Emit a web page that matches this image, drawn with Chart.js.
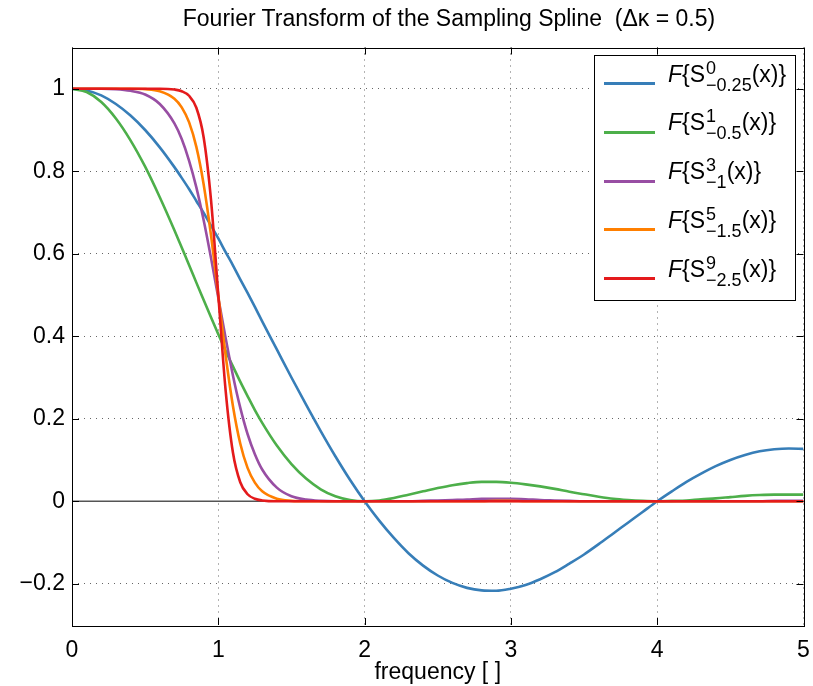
<!DOCTYPE html>
<html>
<head>
<meta charset="utf-8">
<script src="https://cdn.jsdelivr.net/npm/chart.js@4.4.1/dist/chart.umd.min.js"></script>
<style>
  body { margin: 0; background: #fff; }
  #wrap { position: relative; width: 813px; height: 686px; }
  #title {
    position: absolute; left: 0; width: 898px; top: 7px; text-align: center;
    font-family: "Liberation Sans", Arial, sans-serif; font-size: 23px; line-height: 23px;
    color: #000; white-space: pre;
  }
  #legend {
    position: absolute; left: 594px; top: 55px; width: 202px; height: 246px;
    border: 1px solid #000; background: #fff; box-sizing: border-box;
    font-family: "Liberation Sans", Arial, sans-serif; color: #000;
  }
  .swatch { position: absolute; left: 9px; width: 51px; height: 3px; }
  .lbl { position: absolute; left: 73px; font-size: 23px; line-height: 60px; white-space: nowrap; }
  .ss { display: inline-flex; flex-direction: column; vertical-align: 8px; font-size: 18px; line-height: 17px; margin-left: 1px; }
</style>
</head>
<body>
<div id="wrap">
  <canvas id="fourierChart"></canvas>
  <div id="title">Fourier Transform of the Sampling Spline  (&Delta;&kappa; = 0.5)</div>
  <div id="legend"></div>
</div>
<script>
// frequency samples (denser around the cut-off at 1)
const freq = [0, 0.1, 0.2, 0.3, 0.4, 0.5, 0.6, 0.7,
  0.75, 0.8, 0.85, 0.9, 0.95, 1, 1.05, 1.1, 1.15, 1.2, 1.25, 1.3,
  1.4, 1.5, 1.6, 1.7, 1.8, 1.9, 2,
  2.1, 2.2, 2.3, 2.4, 2.5, 2.6, 2.7, 2.8, 2.9, 3,
  3.1, 3.2, 3.3, 3.4, 3.5, 3.6, 3.7, 3.8, 3.9, 4,
  4.1, 4.2, 4.3, 4.4, 4.5, 4.6, 4.7, 4.8, 4.9, 5];

const spline0 = [1, 0.996, 0.984, 0.963, 0.935, 0.900, 0.858, 0.810,
  0.784, 0.757, 0.728, 0.699, 0.668, 0.637, 0.604, 0.572, 0.538, 0.505, 0.471, 0.436,
  0.368, 0.300, 0.234, 0.170, 0.109, 0.052, 0,
  -0.047, -0.089, -0.126, -0.156, -0.180, -0.198, -0.210, -0.216, -0.217, -0.212,
  -0.203, -0.189, -0.172, -0.151, -0.129, -0.104, -0.078, -0.052, -0.026, 0,
  0.024, 0.047, 0.067, 0.085, 0.100, 0.112, 0.121, 0.126, 0.128, 0.127];

const spline1 = [1, 0.992, 0.968, 0.928, 0.875, 0.811, 0.737, 0.657,
  0.615, 0.573, 0.530, 0.488, 0.446, 0.405, 0.365, 0.327, 0.290, 0.255, 0.221, 0.190,
  0.135, 0.090, 0.055, 0.029, 0.012, 0.003, 0,
  0.002, 0.008, 0.016, 0.024, 0.032, 0.039, 0.044, 0.047, 0.047, 0.045,
  0.041, 0.036, 0.030, 0.023, 0.017, 0.011, 0.006, 0.003, 0.001, 0,
  0.001, 0.002, 0.005, 0.007, 0.010, 0.013, 0.015, 0.016, 0.016, 0.016];

const spline3 = [1, 1, 1, 0.999, 0.995, 0.986, 0.963, 0.916,
  0.878, 0.826, 0.761, 0.681, 0.590, 0.493, 0.396, 0.305, 0.227, 0.163, 0.114, 0.077,
  0.033, 0.012, 0.004, 0.001, 0, 0, 0,
  0, 0, 0, 0.001, 0.002, 0.003, 0.004, 0.006, 0.006, 0.006,
  0.005, 0.003, 0.002, 0.001, 0, 0, 0, 0, 0, 0,
  0, 0, 0, 0, 0, 0, 0, 0.001, 0.001, 0.001];

const spline5 = [1, 1, 1, 1, 1, 0.999, 0.994, 0.976,
  0.955, 0.919, 0.859, 0.768, 0.645, 0.499, 0.354, 0.231, 0.140, 0.081, 0.045, 0.024,
  0.006, 0.001, 0, 0, 0, 0, 0,
  0, 0, 0, 0, 0, 0, 0, 0, 0.001, 0.001,
  0, 0, 0, 0, 0, 0, 0, 0, 0, 0,
  0, 0, 0, 0, 0, 0, 0, 0, 0, 0];

const spline9 = [1, 1, 1, 1, 1, 1, 1, 0.998,
  0.994, 0.983, 0.954, 0.882, 0.731, 0.500, 0.269, 0.118, 0.046, 0.017, 0.006, 0.002,
  0, 0, 0, 0, 0, 0, 0,
  0, 0, 0, 0, 0, 0, 0, 0, 0, 0,
  0, 0, 0, 0, 0, 0, 0, 0, 0, 0,
  0, 0, 0, 0, 0, 0, 0, 0, 0, 0];

const zeroX = [0, 5];
const zeroY = [0, 0];

const xTicks = [0, 1, 2, 3, 4, 5];
const yTicks = [-0.2, 0, 0.2, 0.4, 0.6, 0.8, 1];

const degrees = ['0', '1', '3', '5', '9'];
const shifts = ['\u22120.25', '\u22120.5', '\u22121', '\u22121.5', '\u22122.5'];
const colors = ['#377eb8', '#4daf4a', '#984ea3', '#ff7f00', '#e41a1c'];
const series = [spline0, spline1, spline3, spline5, spline9];

const fontFamily = '"Liberation Sans", Arial, sans-serif';

let datasets = series.map((vals, i) => ({
    label: 'S' + degrees[i],
    data: freq.map((f, j) => ({x: f, y: vals[j]})),
    borderColor: colors[i],
    borderWidth: 2.6,
    pointRadius: 0,
    fill: false,
    cubicInterpolationMode: 'monotone',
    order: series.length - i
}));
datasets.push({
    label: 'zero',
    data: zeroX.map((f, j) => ({x: f, y: zeroY[j]})),
    borderColor: '#555',
    borderWidth: 1.5,
    pointRadius: 0,
    order: 20
});

// inward tick marks + full box like the original
const frameTicks = {
    id: 'frameTicks',
    afterDatasetsDraw(chart) {
        const ctx = chart.ctx;
        const a = chart.chartArea;
        const xs = chart.scales.x, ys = chart.scales.y;
        ctx.save();
        ctx.strokeStyle = '#000';
        ctx.lineWidth = 1;
        ctx.beginPath();
        xs.ticks.forEach(t => {
            let px = Math.round(xs.getPixelForValue(t.value)) + 0.5;
            ctx.moveTo(px, a.bottom); ctx.lineTo(px, a.bottom - 7);
            ctx.moveTo(px, a.top); ctx.lineTo(px, a.top + 7);
        });
        ys.ticks.forEach(t => {
            let py = Math.round(ys.getPixelForValue(t.value)) + 0.5;
            ctx.moveTo(a.left, py); ctx.lineTo(a.left + 7, py);
            ctx.moveTo(a.right, py); ctx.lineTo(a.right - 7, py);
        });
        ctx.stroke();
        ctx.strokeRect(Math.round(a.left) + 0.5, Math.round(a.top) + 0.5,
            Math.round(a.right - a.left), Math.round(a.bottom - a.top));
        ctx.restore();
    }
};

let ctx = document.getElementById('fourierChart').getContext('2d');

let myChart = new Chart(ctx, {
    type: 'line',
    data: { datasets: datasets },
    plugins: [frameTicks],
    options: {
        responsive: true,
        maintainAspectRatio: false,
        animation: false,
        layout: { padding: { left: 0, right: 9.5, top: 47.5, bottom: 0 } },
        plugins: {
            legend: { display: false },
            tooltip: { enabled: false },
            title: { display: false }
        },
        scales: {
            x: {
                type: 'linear',
                min: 0,
                max: 5,
                afterBuildTicks: scale => { scale.ticks = xTicks.map(v => ({value: v})); },
                afterFit: scale => {
                    scale.height = 61;
                    scale.paddingLeft = 0;
                    scale.paddingRight = 0;
                },
                ticks: {
                    color: '#000',
                    padding: 12,
                    maxRotation: 0,
                    font: { family: fontFamily, size: 23 },
                    callback: v => String(v)
                },
                grid: { color: 'rgba(0,0,0,0.6)', lineWidth: 1, drawTicks: false },
                border: { display: false, dash: [1, 5] },
                title: {
                    display: true,
                    text: 'frequency [ ]',
                    color: '#000',
                    font: { family: fontFamily, size: 23 },
                    padding: { top: 0, bottom: 0 }
                }
            },
            y: {
                type: 'linear',
                min: -0.3,
                max: 1.1,
                afterBuildTicks: scale => { scale.ticks = yTicks.map(v => ({value: v})); },
                afterFit: scale => {
                    scale.width = 72;
                    scale.paddingTop = 0;
                    scale.paddingBottom = 0;
                },
                ticks: {
                    color: '#000',
                    padding: 7,
                    font: { family: fontFamily, size: 23 },
                    callback: v => String(Math.round(v * 10) / 10).replace('-', '\u2212')
                },
                grid: { color: 'rgba(0,0,0,0.6)', lineWidth: 1, drawTicks: false },
                border: { display: false, dash: [1, 5] }
            }
        }
    }
});

// legend with stacked super/subscripts
let legend = document.getElementById('legend');
for (let i = 0; i < degrees.length; i++) {
    let center = 27.5 + 48.8 * i;
    let sw = document.createElement('span');
    sw.className = 'swatch';
    sw.style.background = colors[i];
    sw.style.top = (center - 1.5) + 'px';
    legend.appendChild(sw);
    let lbl = document.createElement('span');
    lbl.className = 'lbl';
    lbl.style.top = (center - 2 - 38) + 'px';
    lbl.innerHTML = '<i>F</i>{S<span class="ss"><span>' + degrees[i] + '</span><span>' +
        shifts[i] + '</span></span>(x)}';
    legend.appendChild(lbl);
}
</script>
</body>
</html>
